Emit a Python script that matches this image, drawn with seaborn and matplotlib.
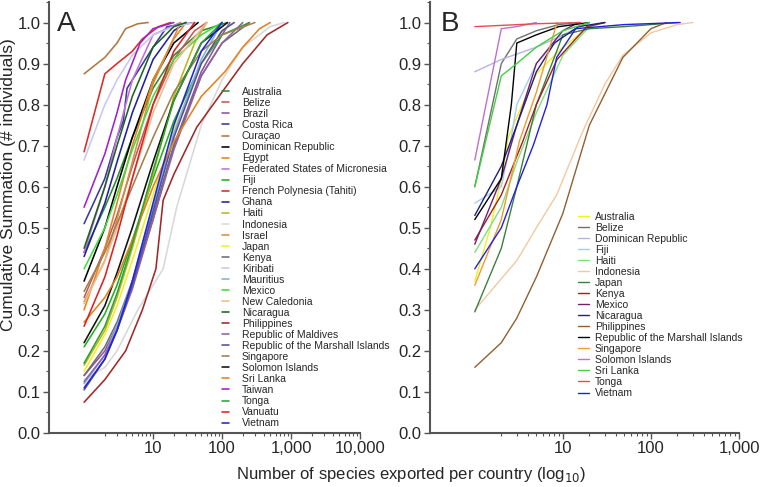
import numpy as np
import pandas as pd
import matplotlib
matplotlib.use("Agg")
import matplotlib.pyplot as plt
import seaborn as sns
from matplotlib.ticker import FixedLocator, FixedFormatter, NullFormatter, MultipleLocator

# ---------------- Panel A data ----------------
countries_A = ["Australia", "Belize", "Brazil", "Costa Rica", "Curaçao", "Dominican Republic",
               "Egypt", "Federated States of Micronesia", "Fiji", "French Polynesia (Tahiti)",
               "Ghana", "Haiti", "Indonesia", "Israel", "Japan", "Kenya", "Kiribati", "Mauritius",
               "Mexico", "New Caledonia", "Nicaragua", "Philippines", "Republic of Maldives",
               "Republic of the Marshall Islands", "Singapore", "Solomon Islands", "Sri Lanka",
               "Taiwan", "Tonga", "Vanuatu", "Vietnam"]
colors_A = ["#2e8b2e", "#c05a5a", "#9050a8", "#3a3a9a", "#b07840", "#000000",
            "#e8821e", "#c070e0", "#22b022", "#e02828",
            "#2020a0", "#b8b820", "#d8d8d8", "#d49040", "#f0f020", "#6e6e6e", "#c8c8f0", "#80b0e0",
            "#40dd40", "#f4b888", "#1e641e", "#a02828", "#9060a0",
            "#5050a0", "#a08050", "#101010", "#e8801a",
            "#a020d0", "#30a030", "#e02020", "#2222dd"]
x_A = [
    [1, 2, 3, 5, 10, 20, 50, 120],
    [1, 2, 3, 5, 10, 20, 40, 60],
    [1, 2, 3, 5, 10, 20, 50, 100, 130],
    [1, 2, 3, 3.7, 4.2, 6.5, 10, 16, 40],
    [1, 2, 3, 4, 6, 8.5],
    [1, 2, 3, 5, 10, 20, 45],
    [1, 2, 3, 5, 10, 20, 30],
    [1, 2, 3, 5, 10, 25],
    [1, 2, 3, 5, 10, 20, 50, 100, 250],
    [1, 2, 3, 5, 7, 12, 18],
    [1, 2, 3, 5, 10, 20, 30],
    [1, 2, 3, 5, 10, 20, 40, 60],
    [1, 2, 3, 6, 14, 22, 50, 100, 200, 500, 800],
    [1, 2, 3, 5, 10, 25],
    [1, 2, 3, 5, 10, 20, 50, 100, 150],
    [1, 2, 3, 5, 10, 20, 50, 100, 250],
    [1, 2, 3, 5, 10, 20, 40],
    [1, 2, 3, 5, 10, 20, 50, 100],
    [1, 2, 3, 5, 10, 20, 50, 100],
    [1, 2, 3, 5, 10, 20, 60],
    [1, 2, 3, 5, 10, 20, 30],
    [1, 2, 4, 7, 11, 14, 20, 43, 110, 200, 450, 900],
    [1, 2, 3, 5, 10, 20, 50, 100, 200],
    [1, 2, 3, 5, 10, 20, 50, 100, 150],
    [1, 2, 3, 5, 10, 20, 50, 100, 300],
    [1, 2, 3, 5, 10, 20, 50, 120],
    [1, 2, 3, 5, 10, 20, 50, 110, 200, 350, 500],
    [1, 2, 3, 4, 6.5, 10, 20],
    [1, 2, 3, 5, 10, 20, 50, 100],
    [1, 2, 3, 5, 10, 20, 40],
    [1, 2, 3, 5, 10, 20, 50, 100],
]
y_A = [
    [0.44, 0.55, 0.62, 0.72, 0.84, 0.92, 0.98, 1.0],
    [0.33, 0.45, 0.53, 0.65, 0.80, 0.91, 0.98, 1.0],
    [0.14, 0.20, 0.26, 0.36, 0.52, 0.70, 0.88, 0.97, 1.0],
    [0.51, 0.62, 0.72, 0.76, 0.84, 0.89, 0.94, 0.99, 1.0],
    [0.875, 0.915, 0.95, 0.985, 0.997, 1.0],
    [0.37, 0.50, 0.60, 0.72, 0.86, 0.95, 1.0],
    [0.30, 0.45, 0.56, 0.70, 0.86, 0.96, 1.0],
    [0.44, 0.60, 0.72, 0.86, 0.97, 1.0],
    [0.21, 0.29, 0.36, 0.47, 0.62, 0.76, 0.90, 0.97, 1.0],
    [0.685, 0.875, 0.90, 0.93, 0.96, 0.99, 1.0],
    [0.43, 0.56, 0.66, 0.78, 0.91, 0.98, 1.0],
    [0.165, 0.25, 0.33, 0.45, 0.63, 0.82, 0.95, 1.0],
    [0.13, 0.16, 0.20, 0.30, 0.40, 0.55, 0.75, 0.86, 0.94, 0.99, 1.0],
    [0.32, 0.42, 0.52, 0.66, 0.85, 1.0],
    [0.15, 0.24, 0.31, 0.42, 0.58, 0.74, 0.90, 0.98, 1.0],
    [0.14, 0.21, 0.27, 0.37, 0.53, 0.70, 0.87, 0.95, 1.0],
    [0.665, 0.80, 0.86, 0.92, 0.97, 0.99, 1.0],
    [0.12, 0.19, 0.26, 0.37, 0.55, 0.73, 0.91, 1.0],
    [0.40, 0.50, 0.58, 0.69, 0.82, 0.91, 0.97, 1.0],
    [0.315, 0.42, 0.50, 0.62, 0.78, 0.90, 1.0],
    [0.45, 0.60, 0.70, 0.82, 0.94, 0.99, 1.0],
    [0.075, 0.13, 0.20, 0.30, 0.40, 0.567, 0.63, 0.745, 0.84, 0.90, 0.97, 1.0],
    [0.125, 0.19, 0.25, 0.35, 0.52, 0.69, 0.87, 0.95, 1.0],
    [0.105, 0.18, 0.25, 0.36, 0.54, 0.72, 0.90, 0.98, 1.0],
    [0.345, 0.44, 0.51, 0.60, 0.72, 0.83, 0.93, 0.97, 1.0],
    [0.22, 0.31, 0.39, 0.50, 0.66, 0.81, 0.95, 1.0],
    [0.27, 0.33, 0.38, 0.47, 0.60, 0.71, 0.82, 0.88, 0.94, 0.985, 1.0],
    [0.55, 0.68, 0.78, 0.86, 0.95, 0.985, 1.0],
    [0.17, 0.26, 0.34, 0.46, 0.64, 0.81, 0.95, 1.0],
    [0.26, 0.38, 0.48, 0.62, 0.80, 0.93, 1.0],
    [0.11, 0.18, 0.25, 0.37, 0.56, 0.75, 0.93, 1.0],
]

# ---------------- Panel B data ----------------
countries_B = ["Australia", "Belize", "Dominican Republic", "Fiji", "Haiti", "Indonesia", "Japan",
               "Kenya", "Mexico", "Nicaragua", "Philippines", "Republic of the Marshall Islands",
               "Singapore", "Solomon Islands", "Sri Lanka", "Tonga", "Vietnam"]
colors_B = ["#f0f020", "#707070", "#b4b4e4", "#a8ccf0", "#80e080", "#f4c8a0", "#3c803c",
            "#a02020", "#702070", "#202080", "#906030", "#000000",
            "#f09a30", "#c070d0", "#40d040", "#e05050", "#2020e0"]
x_B = [
    [1, 1.5, 2, 2.4, 3, 5, 10, 20, 30],
    [1, 2, 3, 5, 9, 15],
    [1, 2, 5, 9, 20],
    [1, 2, 2.5, 3, 5, 10, 20],
    [1, 2, 3, 5, 10, 20, 30],
    [1, 3, 5, 8.5, 17, 30, 48, 100, 200, 300],
    [1, 2, 3, 5, 10, 20, 50, 200],
    [1, 2, 3.5, 5, 8.6, 18.7, 30],
    [1, 2, 3, 5, 10, 15],
    [1, 2, 3, 5, 8, 15, 30],
    [1, 2, 3, 5, 10, 20, 48, 100, 150],
    [1, 2, 2.6, 3, 5, 9, 20],
    [1, 2, 3.2, 5, 8.6],
    [1, 2, 3, 5],
    [1, 2, 3, 5, 10, 20],
    [1, 5, 16],
    [1, 2, 3, 4.6, 6.6, 8.5, 14, 50, 215],
]
y_B = [
    [0.37, 0.50, 0.62, 0.72, 0.77, 0.875, 0.94, 0.99, 1.0],
    [0.60, 0.90, 0.96, 0.98, 0.995, 1.0],
    [0.88, 0.91, 0.94, 0.965, 1.0],
    [0.56, 0.60, 0.70, 0.80, 0.90, 0.97, 1.0],
    [0.44, 0.55, 0.66, 0.78, 0.92, 0.99, 1.0],
    [0.30, 0.42, 0.50, 0.58, 0.737, 0.85, 0.92, 0.975, 0.995, 1.0],
    [0.295, 0.45, 0.60, 0.80, 0.97, 0.985, 0.99, 1.0],
    [0.47, 0.58, 0.71, 0.80, 0.91, 0.99, 1.0],
    [0.46, 0.62, 0.75, 0.90, 0.98, 1.0],
    [0.53, 0.65, 0.75, 0.88, 0.95, 0.99, 1.0],
    [0.16, 0.22, 0.28, 0.38, 0.535, 0.75, 0.915, 0.985, 1.0],
    [0.52, 0.62, 0.80, 0.95, 0.97, 0.99, 1.0],
    [0.36, 0.52, 0.71, 0.83, 1.0],
    [0.665, 0.985, 0.99, 1.0],
    [0.60, 0.87, 0.90, 0.94, 0.98, 1.0],
    [0.99, 0.997, 1.0],
    [0.40, 0.50, 0.60, 0.70, 0.80, 0.915, 0.985, 0.995, 1.0],
]

y_ticks = [0.0, 0.1, 0.2, 0.3, 0.4, 0.5, 0.6, 0.7, 0.8, 0.9, 1.0]
x_ticks_A = [10, 100, 1000, 10000]
x_labels_A = ["10", "100", "1,000", "10,000"]
x_ticks_B = [10, 100, 1000]
x_labels_B = ["10", "100", "1,000"]


def long_frame(names, xs, ys):
    rows = []
    for n, xx, yy in zip(names, xs, ys):
        for i, (a, b) in enumerate(zip(xx, yy)):
            rows.append({"country": n, "x": a, "y": b, "order": i})
    return pd.DataFrame(rows)


sns.set_theme(style="ticks")
plt.rcParams["font.family"] = ["Liberation Sans", "DejaVu Sans"]

W, H = 760, 487
fig = plt.figure(figsize=(7.6, 4.87), dpi=100)
axA = fig.add_axes([49 / W, 1 - 433 / H, 311 / W, (433 - 2) / H])
axB = fig.add_axes([430 / W, 1 - 433 / H, 309 / W, (433 - 2) / H])

dfA = long_frame(countries_A, x_A, y_A)
dfB = long_frame(countries_B, x_B, y_B)

sns.lineplot(data=dfA, x="x", y="y", hue="country", hue_order=countries_A,
             palette=dict(zip(countries_A, colors_A)), units="country", estimator=None,
             sort=False, linewidth=1.15, ax=axA, legend=True)
sns.lineplot(data=dfB, x="x", y="y", hue="country", hue_order=countries_B,
             palette=dict(zip(countries_B, colors_B)), units="country", estimator=None,
             sort=False, linewidth=1.0, ax=axB, legend=True)

for ax, xt, xl, xmax in [(axA, x_ticks_A, x_labels_A, 10000), (axB, x_ticks_B, x_labels_B, 1000)]:
    ax.set_xscale("log")
    ax.set_xlim(0.31, xmax)
    ax.set_ylim(0, 1.05)
    ax.xaxis.set_major_locator(FixedLocator(xt))
    ax.xaxis.set_major_formatter(FixedFormatter(xl))
    ax.xaxis.set_minor_locator(FixedLocator([m * 10 ** e for e in range(0, 4) for m in range(2, 10)]))
    ax.xaxis.set_minor_formatter(NullFormatter())
    ax.set_yticks(y_ticks)
    ax.set_yticklabels([f"{v:.1f}" for v in y_ticks])
    ax.yaxis.set_minor_locator(MultipleLocator(0.05))
    ax.tick_params(axis="both", which="major", labelsize=12, length=4, width=1, color="#555555",
                   direction="out", pad=2)
    ax.tick_params(axis="both", which="minor", length=2, width=0.8, color="#555555", direction="out")
    for s in ["top", "right"]:
        ax.spines[s].set_visible(False)
    for s in ["left", "bottom"]:
        ax.spines[s].set_color("#555555")
        ax.spines[s].set_linewidth(1.5)
    ax.set_xlabel("")
    ax.set_ylabel("")

fig.text(9 / W, 1 - 185 / H, "Cumulative Summation (# individuals)", rotation=90,
         ha="center", va="center", fontsize=12.5)
fig.text(411 / W, 1 - 474 / H, "Number of species exported per country (log$_{10}$)",
         ha="center", va="center", fontsize=12)

fig.text(57 / W, 1 - 24 / H, "A", fontsize=20, ha="left", va="center")
fig.text(441 / W, 1 - 24 / H, "B", fontsize=20, ha="left", va="center")

# legends
hA, lA = axA.get_legend_handles_labels()
axA.legend(hA, lA, loc="upper left", bbox_to_anchor=(221.5 / W, 1 - 87 / H),
           bbox_transform=fig.transFigure, frameon=False, fontsize=7.5,
           handlelength=0.75, handletextpad=1.2, labelspacing=0.1, borderpad=0, borderaxespad=0)
hB, lB = axB.get_legend_handles_labels()
axB.legend(hB, lB, loc="upper left", bbox_to_anchor=(578 / W, 1 - 211.5 / H),
           bbox_transform=fig.transFigure, frameon=False, fontsize=7.5,
           handlelength=1.1, handletextpad=0.5, labelspacing=0.1, borderpad=0, borderaxespad=0)

fig.savefig("out.png", dpi=100)
